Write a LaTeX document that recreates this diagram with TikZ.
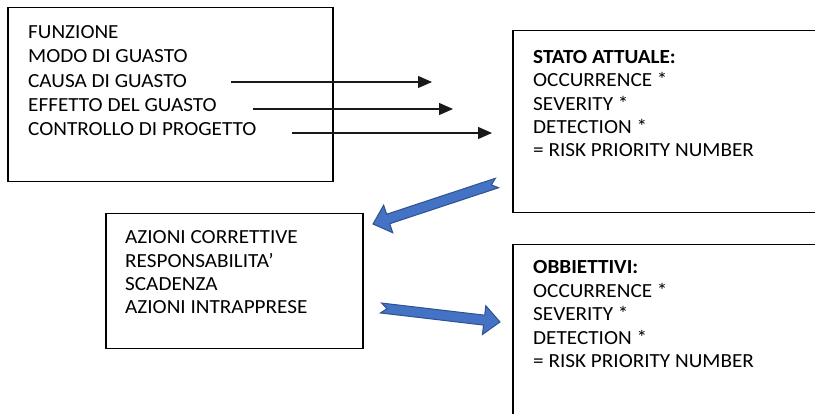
\documentclass[tikz,border=0pt]{standalone}
\usepackage{fontspec}
\setmainfont[FakeStretch=1.06]{Carlito}
\usetikzlibrary{calc,arrows.meta}

\definecolor{arrowblue}{HTML}{4472C4}
\definecolor{arrowedge}{HTML}{2F528F}

\tikzset{
  box/.style={draw=black, line width=1.5pt, rectangle, inner sep=0pt, anchor=north west},
  boxtext/.style={anchor=north west, inner sep=0pt, align=left,
    font=\fontsize{20}{#1}\selectfont},
  boxtext/.default={23.4},
  link/.style={draw=black!90, line width=1.2pt, -{Triangle[length=14pt,width=12pt]}},
  pics/blockarrow/.style={code={
    \filldraw[fill=arrowblue, draw=arrowedge, line width=1pt, line join=miter]
      (0pt,-5pt) -- ({#1-16pt},-5pt) -- ({#1-16pt},-14.5pt) -- (#1,0pt)
      -- ({#1-16pt},14.5pt) -- ({#1-16pt},5pt) -- (0pt,5pt) -- (6pt,0pt) -- cycle;
  }}
}

\begin{document}
\begin{tikzpicture}[x=1pt,y=-1pt]
  \useasboundingbox (0,0) rectangle (815,414);
  \clip (0,0) rectangle (815,414);

  % failure analysis box
  \node[box, minimum width=325pt, minimum height=174pt] (fmea) at (7,7) {};
  \node[boxtext={24.2}] (fmeatext) at (28,25.6)
    {FUNZIONE\\MODO DI GUASTO\\CAUSA DI GUASTO\\EFFETTO DEL GUASTO\\CONTROLLO DI PROGETTO};

  % current state box
  \node[box, minimum width=330pt, minimum height=182pt] (stato) at (512,30) {};
  \node[boxtext] (statotext) at (533,50)
    {\textbf{STATO ATTUALE:}\\OCCURRENCE *\\SEVERITY *\\DETECTION *\\= RISK PRIORITY NUMBER};

  % corrective actions box
  \node[box, minimum width=257pt, minimum height=135pt] (azioni) at (105,213) {};
  \node[boxtext] (azionitext) at (125,230.5)
    {AZIONI CORRETTIVE\\RESPONSABILITA’\\SCADENZA\\AZIONI INTRAPPRESE};

  % target box
  \node[box, minimum width=330pt, minimum height=200pt] (obiettivi) at (512,244) {};
  \node[boxtext] (obiettivitext) at (533,260.5)
    {\textbf{OBBIETTIVI:}\\OCCURRENCE *\\SEVERITY *\\DETECTION *\\= RISK PRIORITY NUMBER};

  % thin arrows from the failure list
  \coordinate (causaA) at (231,82);  \coordinate (causaB) at (432,82);
  \coordinate (effA) at (253,109);   \coordinate (effB) at (453,109);
  \coordinate (ctrlA) at (292,133);  \coordinate (ctrlB) at (492,133);
  \draw[link] (causaA) -- (causaB);
  \draw[link] (effA) -- (effB);
  \draw[link] (ctrlA) -- (ctrlB);

  % block arrows between the boxes
  \coordinate (back1) at (497,183);  \coordinate (tip1) at (373,224);
  \coordinate (back2) at (381,308);  \coordinate (tip2) at (500,322);
  \path let \p1=($(tip1)-(back1)$), \n1={atan2(\y1,\x1)}, \n2={veclen(\x1,\y1)} in
    pic[rotate=\n1] at (back1) {blockarrow={\n2}};
  \path let \p1=($(tip2)-(back2)$), \n1={atan2(\y1,\x1)}, \n2={veclen(\x1,\y1)} in
    pic[rotate=\n1] at (back2) {blockarrow={\n2}};
\end{tikzpicture}
\end{document}
